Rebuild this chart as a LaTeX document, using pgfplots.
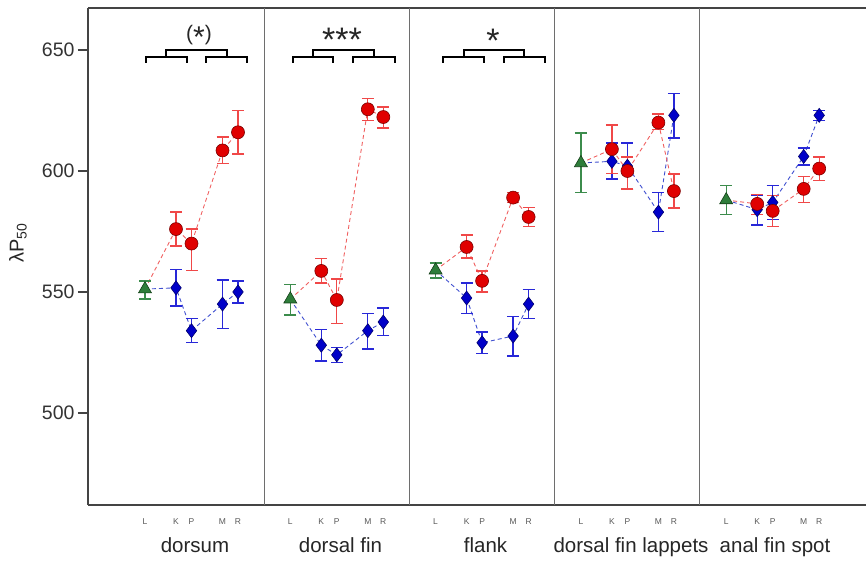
\documentclass[border=0pt]{standalone}
\usepackage{fontspec}
\setmainfont{Liberation Sans}
\usepackage{pgfplots}
\usepackage{pgfplotstable}
\pgfplotsset{compat=1.18}

\definecolor{rfill}{HTML}{E00000}
\definecolor{redge}{HTML}{7A0000}
\definecolor{rerr}{HTML}{F04848}
\definecolor{rline}{HTML}{F06060}
\definecolor{bfill}{HTML}{0000C8}
\definecolor{bedge}{HTML}{000070}
\definecolor{berr}{HTML}{2828D8}
\definecolor{bline}{HTML}{4050D0}
\definecolor{gfill}{HTML}{2E7D3A}
\definecolor{gedge}{HTML}{144018}
\definecolor{gerr}{HTML}{3C8C4C}
\definecolor{frame}{HTML}{444444}
\definecolor{sepc}{HTML}{6E6E6E}

% x is in picture units: L K P M R of each body region, one region every 145.3
% first row of each block is the L (green) value where the dashed line starts
\pgfplotstableread{
x y ep em
145 551.2 0 0
176 576 7 7
191.5 570 6 11
222.5 608.5 5.5 5.5
238 616 9 9
nan nan 0 0
290.3 547 0 0
321.3 558.7 5 5
336.8 546.7 8.7 9.7
367.8 625.5 4.5 4.5
383.3 622.3 4.1 4.5
nan nan 0 0
435.6 559 0 0
466.6 568.6 4.9 4.6
482.1 554.6 4.1 4.6
513.1 589 2 2
528.6 581 4 4
nan nan 0 0
580.9 603.3 0 0
611.9 609 10 10
627.4 600 5.8 7.4
658.4 620 3.5 3
673.9 591.7 7.1 7
nan nan 0 0
726.2 588 0 0
757.2 586.4 4 4.4
772.7 583.5 6.5 6.5
803.7 592.6 5 5.5
819.2 601 4.8 5
}\reddata

\pgfplotstableread{
x y ep em
145 551.2 0 0
176 551.7 7.5 7.5
191.5 534 5 5
222.5 545 10 10
238 550 4.5 4.5
nan nan 0 0
290.3 547 0 0
321.3 528 6.5 6.5
336.8 524 3 3
367.8 534 7 7.5
383.3 537.6 5.8 5.6
nan nan 0 0
435.6 559 0 0
466.6 547.5 6.2 6.5
482.1 529 4.5 4.5
513.1 531.8 8.2 8.2
528.6 545 6 6
nan nan 0 0
580.9 603.3 0 0
611.9 604 7.6 7.3
627.4 602 9.6 9.4
658.4 583 8 8
673.9 623 9 9.4
nan nan 0 0
726.2 588 0 0
757.2 584 6 6.3
772.7 587 7 7
803.7 606 3.5 3.5
819.2 623 2 2
}\bluedata

\pgfplotstableread{
x y ep em
145 551.2 3.3 4.1
290.3 547 6 6.5
435.6 559 3 3.2
580.9 603.3 12.4 12.3
726.2 588 6 6
}\greendata

\pgfplotsset{
  skipL/.style={
    skip coords between index={0}{1},
    skip coords between index={6}{7},
    skip coords between index={12}{13},
    skip coords between index={18}{19},
    skip coords between index={24}{25},
  },
  bracket/.style={black, line width=1.3pt, mark=none, forget plot},
  sep/.style={sepc, line width=1pt, mark=none, forget plot},
}

\begin{document}
\begin{tikzpicture}
\begin{axis}[
  scale only axis,
  width=778pt, height=497pt,
  xmin=88, xmax=866,
  ymin=461.98, ymax=667.36,
  axis x line=box, axis y line=left,
  axis line style={-, draw=frame, line width=1.2pt},
  y axis line style={-},
  ytick={500,550,600,650},
  tick align=outside,
  major tick length=10pt,
  ytick style={draw=frame, line width=1.2pt},
  xtick={145,176,191.5,222.5,238,
         290.3,321.3,336.8,367.8,383.3,
         435.6,466.6,482.1,513.1,528.6,
         580.9,611.9,627.4,658.4,673.9,
         726.2,757.2,772.7,803.7,819.2},
  xticklabels={L,K,P,M,R,L,K,P,M,R,L,K,P,M,R,L,K,P,M,R,L,K,P,M,R},
  xtick style={draw=none},
  xticklabel style={font=\fontsize{8.5}{10}\selectfont, text=black!65},
  yticklabel style={font=\fontsize{19.5}{22}\selectfont, text=black!80},
  /pgf/number format/assume math mode=true,
  clip=false,
  unbounded coords=jump,
]

% panel separators
\addplot[sep] coordinates {(264,461.98) (264,667.36)};
\addplot[sep] coordinates {(409.3,461.98) (409.3,667.36)};
\addplot[sep] coordinates {(554.6,461.98) (554.6,667.36)};
\addplot[sep] coordinates {(699.9,461.98) (699.9,667.36)};

% dashed connecting lines
\addplot[bline, line width=0.9pt, dash pattern=on 4pt off 3pt, mark=none]
  table[x=x, y=y] {\bluedata};
\addplot[rline, line width=0.9pt, dash pattern=on 4pt off 3pt, mark=none]
  table[x=x, y=y] {\reddata};

% points with error bars
\addplot[only marks, skipL, mark=diamond*, mark size=7pt,
  mark options={fill=bfill, draw=bedge, line width=0.6pt},
  error bars/.cd, y dir=both, y explicit,
  error bar style={draw=berr, line width=1.3pt},
  error mark options={rotate=90, draw=berr, line width=1.3pt, mark size=6pt}]
  table[x=x, y=y, y error plus=ep, y error minus=em] {\bluedata};
\addplot[only marks, skipL, mark=*, mark size=6.5pt,
  mark options={fill=rfill, draw=redge, line width=0.6pt},
  error bars/.cd, y dir=both, y explicit,
  error bar style={draw=rerr, line width=1.3pt},
  error mark options={rotate=90, draw=rerr, line width=1.3pt, mark size=6pt}]
  table[x=x, y=y, y error plus=ep, y error minus=em] {\reddata};
\addplot[only marks, mark=triangle*, mark size=7.5pt,
  mark options={fill=gfill, draw=gedge, line width=0.6pt},
  error bars/.cd, y dir=both, y explicit,
  error bar style={draw=gerr, line width=1.3pt},
  error mark options={rotate=90, draw=gerr, line width=1.3pt, mark size=6pt}]
  table[x=x, y=y, y error plus=ep, y error minus=em] {\greendata};

% significance brackets
\addplot[bracket] coordinates {(146,644.63) (146,647.11) (187,647.11) (187,644.63)};
\addplot[bracket] coordinates {(206,644.63) (206,647.11) (247,647.11) (247,644.63)};
\addplot[bracket] coordinates {(166,647.11) (166,650) (227,650) (227,647.11)};
\addplot[bracket] coordinates {(293,644.63) (293,647.11) (333,647.11) (333,644.63)};
\addplot[bracket] coordinates {(353,644.63) (353,647.11) (395,647.11) (395,644.63)};
\addplot[bracket] coordinates {(313,647.11) (313,650) (374,650) (374,647.11)};
\addplot[bracket] coordinates {(443,644.63) (443,647.11) (484,647.11) (484,644.63)};
\addplot[bracket] coordinates {(504,644.63) (504,647.11) (545,647.11) (545,644.63)};
\addplot[bracket] coordinates {(464,647.11) (464,650) (524,650) (524,647.11)};

\node[anchor=base, font=\fontsize{21}{24}\selectfont, text=black!85]
  at (axis cs:199,653.9) {(\raisebox{-7pt}{\fontsize{30}{30}\selectfont *})};
\node[anchor=base, font=\fontsize{34}{36}\selectfont, text=black!85]
  at (axis cs:342,649.3) {***};
\node[anchor=base, font=\fontsize{34}{36}\selectfont, text=black!85]
  at (axis cs:493,648.9) {*};

% axis titles
\node[rotate=90, font=\fontsize{20}{24}\selectfont, text=black!85]
  at (axis cs:18,570.25) {λP\textsubscript{50}};
\node[anchor=base, font=\fontsize{20.5}{24}\selectfont, text=black!85]
  at (axis cs:195,442.27) {dorsum};
\node[anchor=base, font=\fontsize{20.5}{24}\selectfont, text=black!85]
  at (axis cs:340.5,442.27) {dorsal fin};
\node[anchor=base, font=\fontsize{20.5}{24}\selectfont, text=black!85]
  at (axis cs:485.5,442.27) {flank};
\node[anchor=base, font=\fontsize{20.5}{24}\selectfont, text=black!85]
  at (axis cs:631,442.27) {dorsal fin lappets};
\node[anchor=base, font=\fontsize{20.5}{24}\selectfont, text=black!85]
  at (axis cs:775,442.27) {anal fin spot};

\coordinate (bbsw) at (axis cs:0,438.02);
\coordinate (bbne) at (axis cs:866,670.66);
\end{axis}
\pgfresetboundingbox
\path[use as bounding box] (bbsw) rectangle (bbne);
\end{tikzpicture}
\end{document}
